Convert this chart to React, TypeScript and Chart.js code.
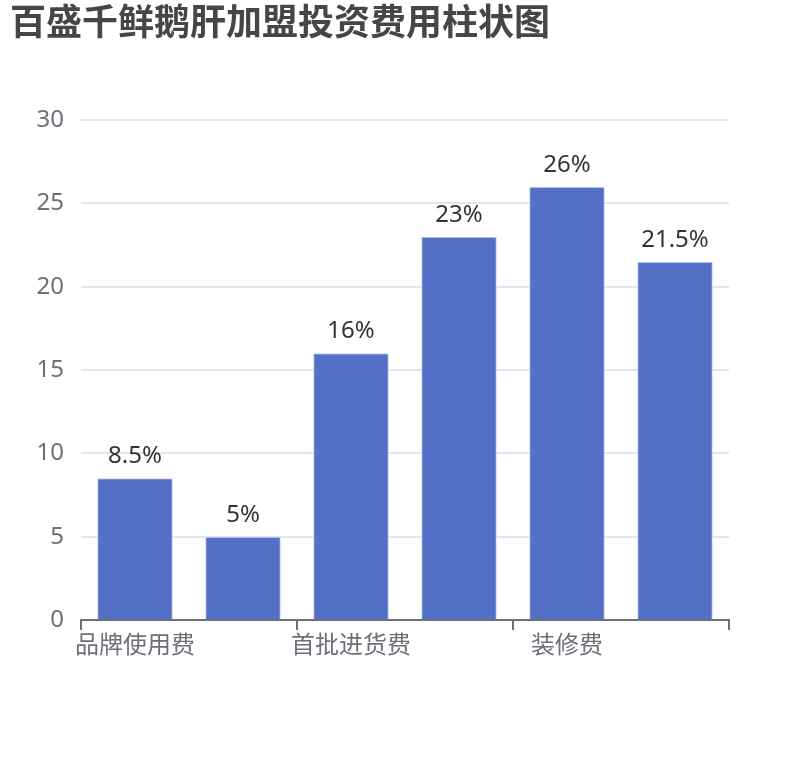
import React, { useEffect, useRef } from 'react';
import { Chart, registerables } from 'chart.js';

Chart.register(...registerables);

const title = '百盛千鲜鹅肝加盟投资费用柱状图';
// only every second category name is shown on the axis
const categories = ['品牌使用费', '保证金', '首批进货费', '设备费', '装修费', '房租费用'];
const shares = [8.5, 5, 16, 23, 26, 21.5];
const yTicks = [0, 5, 10, 15, 20, 25, 30];

const FONT = "'Noto Sans', 'Noto Sans CJK SC', sans-serif";

const titlePlugin = {
  id: 'leftTitle',
  afterDraw(chart: any) {
    const ctx = chart.ctx;
    ctx.save();
    ctx.font = `bold 36px ${FONT}`;
    ctx.fillStyle = '#464646';
    ctx.textAlign = 'left';
    ctx.textBaseline = 'top';
    ctx.fillText(title, 10, 7);
    ctx.restore();
  },
};

const valueLabels = {
  id: 'valueLabels',
  afterDatasetsDraw(chart: any) {
    const ctx = chart.ctx;
    const meta = chart.getDatasetMeta(0);
    ctx.save();
    ctx.font = `24px ${FONT}`;
    ctx.fillStyle = '#333333';
    ctx.textAlign = 'center';
    ctx.textBaseline = 'alphabetic';
    meta.data.forEach((bar: any, i: number) => {
      ctx.fillText(shares[i] + '%', bar.x, bar.y - 15);
    });
    ctx.restore();
  },
};

const App = () => {
  const chartRef = useRef<HTMLCanvasElement>(null);

  useEffect(() => {
    document.body.style.margin = '0';
    if (!chartRef.current) return;
    const myChart = new Chart(chartRef.current, {
      type: 'bar',
      data: {
        labels: categories,
        datasets: [
          {
            data: shares,
            backgroundColor: '#5470c6',
            borderColor: '#c9d3f0',
            borderWidth: 1,
            barPercentage: 0.7,
            categoryPercentage: 1,
          },
        ],
      },
      options: {
        responsive: false,
        animation: false,
        layout: { padding: { top: 120, right: 81, left: 0, bottom: 0 } },
        plugins: {
          legend: { display: false },
          title: { display: false },
          tooltip: { enabled: false },
        },
        scales: {
          x: {
            afterFit: (scale: any) => {
              scale.height = 140;
            },
            grid: {
              offset: true,
              drawOnChartArea: false,
              tickLength: 10,
              lineWidth: 2,
              color: (ctx: any) =>
                ctx.index === undefined || ctx.index % 2 === 0 ? '#6e7079' : 'rgba(0,0,0,0)',
            },
            border: { color: '#6e7079', width: 2 },
            ticks: {
              autoSkip: false,
              maxRotation: 0,
              padding: 2,
              color: '#6e7079',
              font: { size: 24, family: FONT },
              callback: (_v: any, i: number) => (i % 2 === 0 ? categories[i] : ''),
            },
          },
          y: {
            min: yTicks[0],
            max: yTicks[yTicks.length - 1],
            afterFit: (scale: any) => {
              scale.width = 81;
            },
            afterBuildTicks: (scale: any) => {
              scale.ticks = yTicks.map((v) => ({ value: v }));
            },
            grid: { color: '#e0e6f1', lineWidth: 2, drawTicks: false },
            border: { display: false },
            ticks: {
              padding: 17,
              color: '#6e7079',
              font: { size: 24, family: FONT },
            },
          },
        },
      },
      plugins: [titlePlugin, valueLabels],
    });
    return () => {
      myChart.destroy();
    };
  }, []);

  return (
    <div style={{ width: 810, height: 760 }}>
      <canvas ref={chartRef} width={810} height={760} />
    </div>
  );
};

export default App;
